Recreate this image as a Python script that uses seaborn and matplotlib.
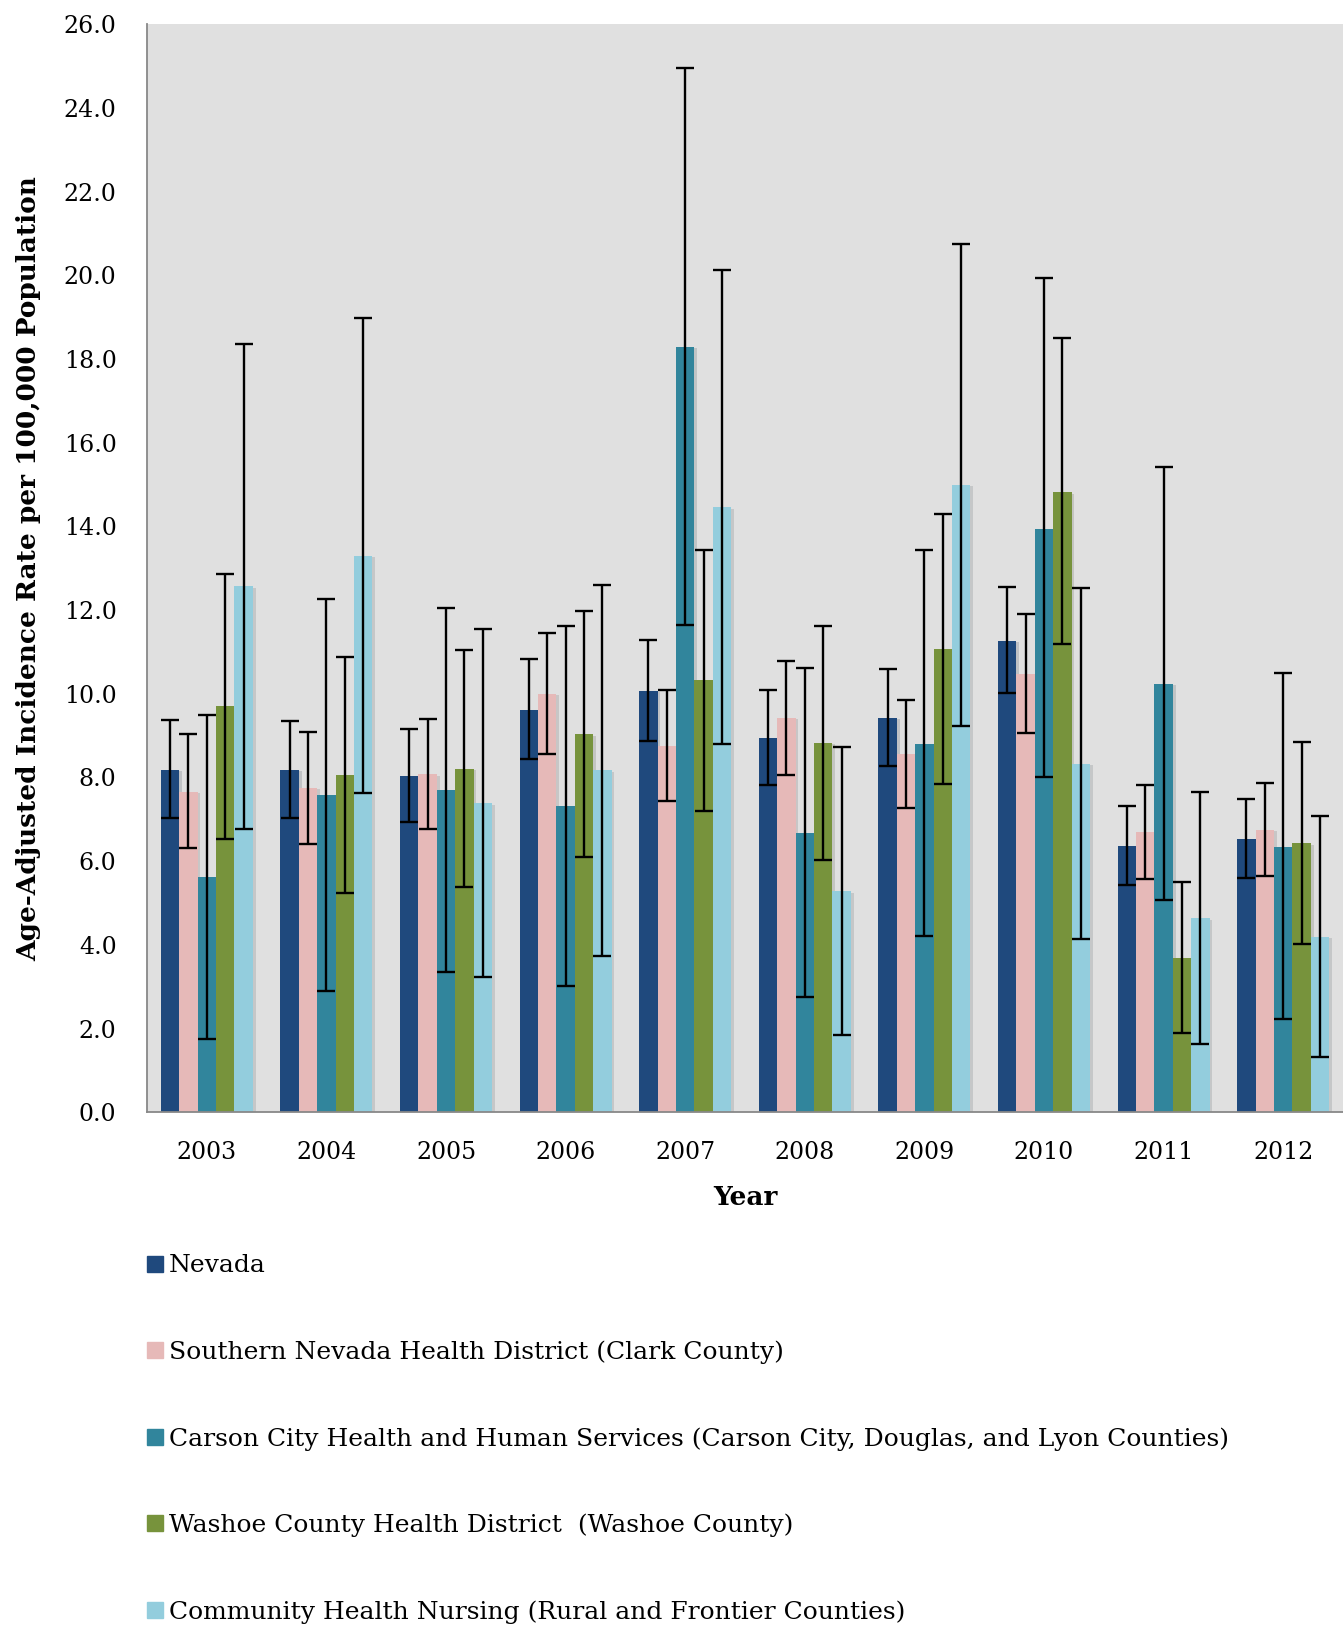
import numpy as np
import pandas as pd
import matplotlib
matplotlib.use("Agg")
import matplotlib.pyplot as plt
import matplotlib.patheffects as pe
from matplotlib.lines import Line2D
import seaborn as sns

# Values
years = ['2003', '2004', '2005', '2006', '2007', '2008', '2009', '2010', '2011', '2012']
regions = ['Nevada',
           'Southern Nevada Health District (Clark County)',
           'Carson City Health and Human Services (Carson City, Douglas, and Lyon Counties)',
           'Washoe County Health District  (Washoe County)',
           'Community Health Nursing (Rural and Frontier Counties)']
colors = ['#1F497D', '#E6B9B8', '#31859C', '#77933C', '#93CDDD']

nevada = [8.19, 8.19, 8.04, 9.62, 10.07, 8.95, 9.42, 11.26, 6.37, 6.53]
nevada_lo = [7.02, 7.03, 6.94, 8.43, 8.87, 7.82, 8.28, 10.02, 5.44, 5.60]
nevada_hi = [9.38, 9.34, 9.15, 10.82, 11.29, 10.08, 10.59, 12.55, 7.31, 7.48]
snhd = [7.66, 7.75, 8.08, 10.00, 8.76, 9.42, 8.55, 10.48, 6.69, 6.75]
snhd_lo = [6.32, 6.41, 6.77, 8.57, 7.44, 8.07, 7.26, 9.06, 5.58, 5.64]
snhd_hi = [9.03, 9.09, 9.40, 11.46, 10.09, 10.79, 9.84, 11.90, 7.83, 7.86]
carson = [5.62, 7.57, 7.69, 7.31, 18.30, 6.68, 8.81, 13.95, 10.24, 6.34]
carson_lo = [1.74, 2.89, 3.35, 3.01, 11.64, 2.75, 4.21, 8.00, 5.07, 2.22]
carson_hi = [9.50, 12.26, 12.05, 11.62, 24.96, 10.61, 13.43, 19.93, 15.42, 10.49]
washoe = [9.70, 8.05, 8.21, 9.03, 10.32, 8.83, 11.06, 14.82, 3.68, 6.43]
washoe_lo = [6.54, 5.23, 5.38, 6.10, 7.21, 6.03, 7.85, 11.18, 1.90, 4.02]
washoe_hi = [12.87, 10.88, 11.05, 11.98, 13.44, 11.63, 14.29, 18.51, 5.49, 8.85]
chn = [12.57, 13.30, 7.38, 8.17, 14.46, 5.28, 14.99, 8.32, 4.63, 4.19]
chn_lo = [6.78, 7.63, 3.23, 3.74, 8.80, 1.85, 9.24, 4.13, 1.62, 1.31]
chn_hi = [18.37, 18.99, 11.55, 12.60, 20.13, 8.74, 20.75, 12.52, 7.65, 7.09]

rates = [nevada, snhd, carson, washoe, chn]
lows = [nevada_lo, snhd_lo, carson_lo, washoe_lo, chn_lo]
highs = [nevada_hi, snhd_hi, carson_hi, washoe_hi, chn_hi]

rows = []
for r, vals, lo, hi in zip(regions, rates, lows, highs):
    for y, v, l, h in zip(years, vals, lo, hi):
        rows.append({'Year': y, 'Region': r, 'Rate': v, 'Low': l, 'High': h})
df = pd.DataFrame(rows)

sns.set_style("white")
plt.rcParams['font.family'] = ['DejaVu Serif']
plt.rcParams['text.color'] = 'black'
plt.rcParams['axes.labelcolor'] = 'black'

fig = plt.figure(figsize=(13.43, 16.26), dpi=100)
ax = fig.add_axes([0.1095, 0.316, 0.8905, 0.669])
ax.set_facecolor('#E0E0E0')

sns.barplot(data=df, x='Year', y='Rate', hue='Region', hue_order=regions,
            palette=dict(zip(regions, colors)), width=0.77, errorbar=None,
            saturation=1, legend=False, ax=ax)

# error bars at bar centres
for cont, lo, hi in zip(ax.containers, lows, highs):
    xs = [p.get_x() + p.get_width() / 2 for p in cont]
    vals = np.array([p.get_height() for p in cont])
    err = [vals - np.array(lo), np.array(hi) - vals]
    ax.errorbar(xs, vals, yerr=err, fmt='none', ecolor='black',
                elinewidth=1.7, capsize=6.5, capthick=1.7, zorder=5)
    for p in cont:
        p.set_linewidth(0)
        p.set_path_effects([pe.SimplePatchShadow(offset=(2, -1), alpha=0.15), pe.Normal()])

ax.set_ylim(0, 26)
ax.set_xlim(-0.5, 9.45)
ax.set_yticks(np.arange(0, 26.1, 2))
ax.set_yticklabels([f'{v:.1f}' for v in np.arange(0, 26.1, 2)], fontsize=17)
ax.set_xticks(np.arange(-0.5, 10, 1), minor=True)
ax.tick_params(axis='x', which='major', length=0, labelsize=17, pad=21, labelcolor='black')
ax.tick_params(axis='x', which='minor', length=10, width=1.3, color='#888888', direction='out')
ax.tick_params(axis='y', length=8, width=1.3, color='#888888', direction='out', pad=14,
               labelcolor='black')
for s in ['top', 'right']:
    ax.spines[s].set_visible(False)
for s in ['left', 'bottom']:
    ax.spines[s].set_color('#888888')
    ax.spines[s].set_linewidth(1.3)
ax.grid(False)

ax.set_xlabel('Year', fontsize=19, fontweight='bold', labelpad=15)
ax.set_ylabel('Age-Adjusted Incidence Rate per 100,000 Population',
              fontsize=19, fontweight='bold', labelpad=16)

handles = [Line2D([], [], marker='s', linestyle='', color=c, markersize=11) for c in colors]
fig.legend(handles, regions, loc='upper left', bbox_to_anchor=(0.106, 0.2285),
           frameon=False, fontsize=18, labelspacing=2.52, handletextpad=0.05,
           borderpad=0, borderaxespad=0, handlelength=1.0, labelcolor='black')

fig.savefig('out.png', dpi=100)
